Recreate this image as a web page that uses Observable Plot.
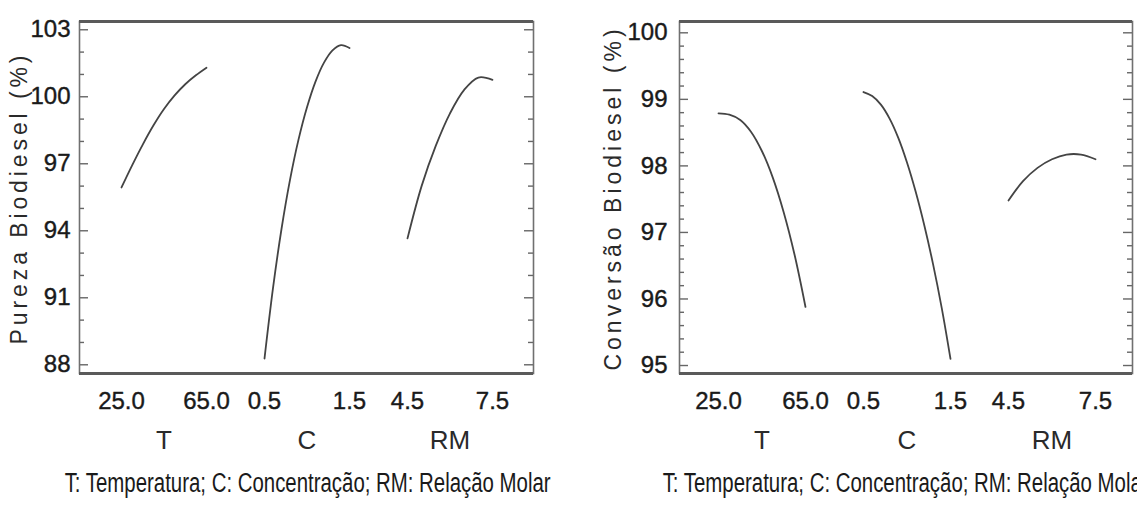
<!DOCTYPE html>
<html><head><meta charset="utf-8">
<script src="https://cdn.jsdelivr.net/npm/d3@7"></script>
<script src="https://cdn.jsdelivr.net/npm/@observablehq/plot@0.6"></script>
<style>
html,body{margin:0;padding:0;background:#fff;overflow:hidden;width:1137px;height:509px;}
.panel{position:absolute;top:0;height:509px;}
.caption{position:absolute;top:460px;height:49px;width:800px;text-align:center;white-space:nowrap;font-family:"Liberation Sans",Arial,sans-serif;font-size:27px;color:#1a1a1a;line-height:46px;}
.caption span{display:inline-block;transform-origin:50% 50%;}
.ytitle{position:absolute;white-space:nowrap;font-family:"Liberation Sans",Arial,sans-serif;font-size:23px;color:#2a2a2a;line-height:26px;}
</style></head><body>
<div id="left" class="panel" style="left:0;width:560px"></div>
<div id="right" class="panel" style="left:560px;width:577px"></div>
<script>
// ---- data ----
const factorNames = ["T", "C", "RM"];
const factorLow = [25.0, 0.5, 4.5];
const factorHigh = [65.0, 1.5, 7.5];
const tickLabels = ["25.0", "65.0", "0.5", "1.5", "4.5", "7.5"];

const levelsT = [25, 30, 35, 40, 45, 50, 55, 60, 65];
const levelsC = [0.5, 0.6, 0.7, 0.8, 0.9, 1.0, 1.1, 1.2, 1.3, 1.4, 1.5];
const levelsRM = [4.5, 5.0, 5.5, 6.0, 6.5, 7.0, 7.5];

const purezaT = [95.94, 96.93, 97.86, 98.71, 99.45, 100.06, 100.56, 100.96, 101.30];
const purezaC = [88.28, 91.43, 94.08, 96.28, 98.08, 99.53, 100.68, 101.53, 102.08, 102.31, 102.18];
const purezaRM = [93.66, 96.01, 97.81, 99.26, 100.31, 100.86, 100.76];

const conversaoT = [98.79, 98.77, 98.69, 98.51, 98.22, 97.82, 97.30, 96.66, 95.88];
const conversaoC = [99.11, 99.05, 98.92, 98.71, 98.42, 98.05, 97.61, 97.10, 96.52, 95.86, 95.10];
const conversaoRM = [97.48, 97.77, 97.97, 98.10, 98.17, 98.17, 98.10];

const purezaMajor = [88, 91, 94, 97, 100, 103];
const purezaMinor = [89, 90, 92, 93, 95, 96, 98, 99, 101, 102];
const conversaoMajor = [95, 96, 97, 98, 99, 100];
const conversaoMinor = [95.2, 95.4, 95.6, 95.8, 96.2, 96.4, 96.6, 96.8, 97.2, 97.4, 97.6, 97.8, 98.2, 98.4, 98.6, 98.8, 99.2, 99.4, 99.6, 99.8];

const purezaTitle = "Pureza Biodiesel (%)";
const conversaoTitle = "Conversão Biodiesel (%)";
const captionText = "T: Temperatura; C: Concentração; RM: Relação Molar";

const FONT = '"Liberation Sans", Arial, Helvetica, sans-serif';

function squeeze(svg, label, sx) {
  d3.select(svg).selectAll(`g[aria-label="${label}"] text`).each(function () {
    const t = this.getAttribute("transform") || "";
    this.setAttribute("transform", t + ` scale(${sx},1)`);
  });
}

function panel(o) {
  const g = o.gap / o.seg, m = o.pad / o.seg, mR = o.padR / o.seg;
  const offsets = [0, 1 + g, 2 + 2 * g];
  const pos = (f, v) => offsets[f] + (v - factorLow[f]) / (factorHigh[f] - factorLow[f]);
  const rows = [];
  [levelsT, levelsC, levelsRM].forEach((lv, f) =>
    lv.forEach((v, i) => rows.push({factor: factorNames[f], x: pos(f, v), y: o.series[f][i]})));
  const xt = [];
  factorNames.forEach((n, f) => {
    xt.push({x: pos(f, factorLow[f]), label: tickLabels[2 * f]});
    xt.push({x: pos(f, factorHigh[f]), label: tickLabels[2 * f + 1]});
  });
  const fl = factorNames.map((n, f) => ({x: offsets[f] + 0.5, label: n}));
  const plotW = o.width - o.ml - o.mr;
  const tickStyle = {stroke: "#666", strokeWidth: 1.4};
  const svg = Plot.plot({
    width: o.width, height: o.height,
    marginLeft: o.ml, marginRight: o.mr, marginTop: o.mt, marginBottom: o.mb,
    style: {fontFamily: FONT, background: "transparent", overflow: "visible"},
    x: {domain: [-m, 3 + 2 * g + mR], axis: null},
    y: {domain: o.yDomain, axis: null},
    marks: [
      Plot.ruleY(o.minors, {insetRight: plotW - 5, ...tickStyle}),
      Plot.ruleY(o.minors, {insetLeft: plotW - 5, ...tickStyle}),
      Plot.ruleY(o.majors, {insetRight: plotW - 9, ...tickStyle}),
      Plot.ruleY(o.majors, {insetLeft: plotW - 9, ...tickStyle}),
      Plot.frame({stroke: "#707070", strokeWidth: 1.6}),
      Plot.ruleY(o.yDomain, {stroke: "#5a5a5a", strokeWidth: 3}),
      Plot.text(o.majors, {y: d => d, text: d => String(d), frameAnchor: "left", textAnchor: "end", dx: -o.tickPad, fontSize: 24, fill: "#1a1a1a", stroke: "#1a1a1a", strokeWidth: 0.4, ariaLabel: "ytick"}),
      Plot.text(xt, {x: "x", text: "label", frameAnchor: "bottom", dy: 35, fontSize: 24, fill: "#1a1a1a", stroke: "#1a1a1a", strokeWidth: 0.4, ariaLabel: "xtick"}),
      Plot.text(fl, {x: "x", text: "label", frameAnchor: "bottom", dy: 75, fontSize: 26, fill: "#2a2a2a", ariaLabel: "factor"}),
      Plot.line(rows, {x: "x", y: "y", z: "factor", curve: "catmull-rom", stroke: "#444", strokeWidth: 1.8})
    ]
  });
  const el = document.getElementById(o.el);
  el.appendChild(svg);
  squeeze(svg, "ytick", 0.78);
  squeeze(svg, "xtick", 0.8);
  squeeze(svg, "factor", 0.7);

  // rotated y-axis title
  const t = document.createElement("div");
  t.className = "ytitle";
  t.textContent = o.title;
  el.appendChild(t);
  const natural = t.offsetWidth;
  const ls = (o.titleLen - natural) / o.title.length;
  t.style.letterSpacing = ls + "px";
  t.style.left = o.titleX + "px";
  t.style.top = o.titleY + "px";
  t.style.transform = "translate(-50%,-50%) rotate(-90deg)";

  // caption
  const cap = document.createElement("div");
  cap.className = "caption";
  cap.style.left = (o.capCenter - 400) + "px";
  const span = document.createElement("span");
  span.textContent = captionText;
  cap.appendChild(span);
  el.appendChild(cap);
  const w = span.getBoundingClientRect().width;
  span.style.transform = `scaleX(${486 / w})`;
}

panel({
  el: "left", width: 560, height: 460, ml: 79, mr: 27, mt: 21, mb: 87,
  pad: 42, seg: 85, gap: 58, padR: 41,
  yDomain: [87.61, 103.37], majors: purezaMajor, minors: purezaMinor,
  series: [purezaT, purezaC, purezaRM],
  title: purezaTitle, titleLen: 293, titleX: 19, titleY: 198, tickPad: 9, capCenter: 308
});
panel({
  el: "right", width: 577, height: 460, ml: 119, mr: 5, mt: 21, mb: 87,
  pad: 39, seg: 87, gap: 58, padR: 37,
  yDomain: [94.88, 100.17], majors: conversaoMajor, minors: conversaoMinor,
  series: [conversaoT, conversaoC, conversaoRM],
  title: conversaoTitle, titleLen: 345, titleX: 53, titleY: 198, tickPad: 12, capCenter: 346
});
</script>
</body></html>
